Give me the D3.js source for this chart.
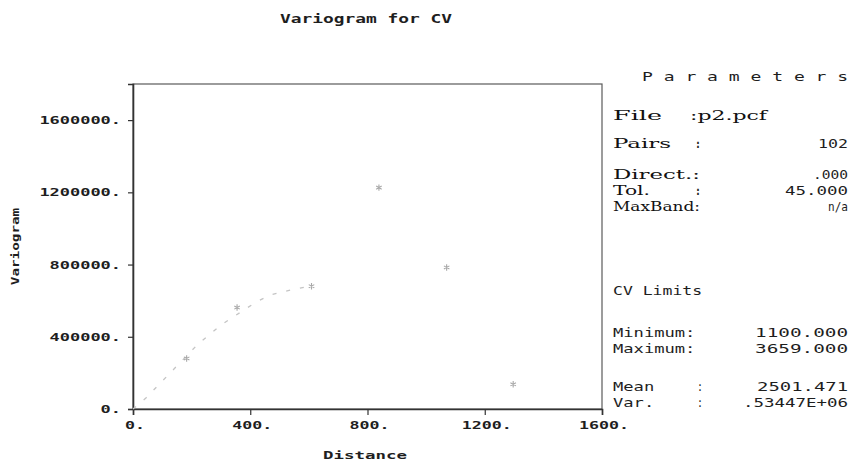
<!DOCTYPE html>
<html>
<head>
<meta charset="utf-8">
<script src="https://cdn.jsdelivr.net/npm/d3@7/dist/d3.min.js"></script>
<style>
  html, body { margin: 0; padding: 0; background: #fff; }
  svg text { font-family: "DejaVu Sans Mono", monospace; fill: #1e1e1e; }
</style>
</head>
<body>
<svg id="chart" width="849" height="463"></svg>
<script>
// Experimental variogram: lag distance and semivariance of each lag class
const lagDistance = [183, 355, 609, 839, 1070, 1297];
const lagGamma    = [280000, 562000, 680000, 1226000, 784000, 137000];

// Fitted model curve, as traced
const modelDistance = [0, 44, 130, 222, 300, 341, 420, 467, 522, 600];
const modelGamma    = [0, 61000, 205000, 360000, 465000, 509000, 592000, 631000, 653000, 680000];

const xTicks = [0, 400, 800, 1200, 1600];
const yTicks = [0, 400000, 800000, 1200000, 1600000];

// Parameter panel rows: [label, separator, value]
const paramRows = [
  ["File", ":p2.pcf", ""],
  ["Pairs", ":", "102"],
  ["Direct.:", "", ".000"],
  ["Tol.", ":", "45.000"],
  ["MaxBand:", "", "n/a"]
];
const limitRows = [
  ["Minimum:", "", "1100.000"],
  ["Maximum:", "", "3659.000"],
  ["Mean", ":", "2501.471"],
  ["Var.", ":", ".53447E+06"]
];

const svg = d3.select("#chart");
const plot = { left: 133, right: 602, top: 84, bottom: 409 };

const x = d3.scaleLinear().domain([0, 1600]).range([plot.left, plot.right]);
const y = d3.scaleLinear().domain([0, 1800000]).range([plot.bottom, plot.top]);

// Wide, blocky terminal-style lettering: fixed advance per character,
// or an explicit overall width
function label(g, str, px, py, opts = {}) {
  const w = opts.width || str.length * (opts.cw || 10.3);
  const t = g.append("text")
    .attr("x", px).attr("y", py)
    .attr("font-size", opts.size || 12)
    .attr("font-weight", opts.weight || "bold")
    .attr("text-anchor", opts.anchor || "start")
    .text(str);
  if (opts.family) t.style("font-family", opts.family);
  if (opts.fill) t.style("fill", opts.fill);
  t.attr("textLength", w).attr("lengthAdjust", "spacingAndGlyphs");
  return t;
}

// Title
label(svg, "Variogram for CV", 366, 23, { anchor: "middle", cw: 10.75, size: 12 });

// Frame
svg.append("rect")
  .attr("x", plot.left).attr("y", plot.top)
  .attr("width", plot.right - plot.left).attr("height", plot.bottom - plot.top)
  .attr("fill", "none").attr("stroke", "#5a5a5a").attr("stroke-width", 1.2);

// Axes
const xAxis = svg.append("g")
  .attr("transform", `translate(0,${plot.bottom})`)
  .call(d3.axisBottom(x).tickValues(xTicks).tickSize(6).tickFormat(() => ""));
const yAxis = svg.append("g")
  .attr("transform", `translate(${plot.left},0)`)
  .call(d3.axisLeft(y).tickValues(yTicks).tickSize(5).tickFormat(() => ""));
[xAxis, yAxis].forEach(a => {
  a.select(".domain").attr("stroke", "#333").attr("stroke-width", 1.6);
  a.selectAll(".tick line").attr("stroke", "#333").attr("stroke-width", 1.2);
});

// Tick labels
xTicks.forEach(v => label(svg, v + ".", x(v) + 2, 429, { anchor: "middle", size: 11, cw: 10 }));
yTicks.forEach(v => label(svg, v + ".", 121, y(v) + 4, { anchor: "end", size: 11, cw: 10.2 }));

// Axis titles
label(svg, "Distance", 365, 459, { anchor: "middle", size: 11, cw: 10.5 });
const yt = svg.append("g").attr("transform", `translate(19,${(plot.top + plot.bottom) / 2}) rotate(-90)`);
label(yt, "Variogram", 0, 0, { anchor: "middle", size: 10, cw: 8.6 });

// Model curve
const line = d3.line().x((d, i) => x(modelDistance[i])).y((d, i) => y(modelGamma[i]));
svg.append("path")
  .datum(modelDistance)
  .attr("d", line)
  .attr("fill", "none")
  .attr("stroke", "#c4c4c4")
  .attr("stroke-width", 1.3)
  .attr("stroke-dasharray", "4,10");

// Experimental points
const sym = d3.symbol().type(d3.symbolAsterisk).size(28);
svg.append("g").selectAll("path")
  .data(lagDistance)
  .join("path")
  .attr("d", sym)
  .attr("transform", (d, i) => `translate(${x(d)},${y(lagGamma[i])})`)
  .attr("fill", "none")
  .attr("stroke", "#a8a8a8")
  .attr("stroke-width", 1.1);

// Parameter panel
const panel = svg.append("g");
label(panel, "P a r a m e t e r s", 642, 81, { cw: 10.85, size: 12, weight: "normal" });

const serif = "'DejaVu Serif', serif";
const rowY = [120, 148, 179, 195, 211];
const labelW = [49, 58, 87, 37, 87];
const valueW = [0, 30, 35, 63, 20];
paramRows.forEach((r, i) => {
  label(panel, r[0], 613, rowY[i], { size: 12, width: labelW[i], family: serif, weight: "normal", fill: "#111" });
  if (r[1]) {
    if (r[1] === ":") label(panel, ":", 695, rowY[i], { size: 12, cw: 6 });
    else label(panel, r[1], 690, rowY[i], { size: 12, width: 77, family: serif, weight: "normal", fill: "#111" });
  }
  if (r[2]) label(panel, r[2], 848, rowY[i], { anchor: "end", size: 12, width: valueW[i], weight: "normal" });
});

label(panel, "CV Limits", 613, 295, { size: 12, cw: 9.9, weight: "normal" });
const limY = [337, 353, 391, 407];
const limW = [93, 93, 91, 105];
limitRows.forEach((r, i) => {
  label(panel, r[0], 613, limY[i], { size: 12, cw: 10.3, weight: "normal" });
  if (r[1]) label(panel, ":", 697, limY[i], { size: 12, cw: 6, weight: "normal" });
  label(panel, r[2], 848, limY[i], { anchor: "end", size: 12, width: limW[i], weight: "normal" });
});
</script>
</body>
</html>
